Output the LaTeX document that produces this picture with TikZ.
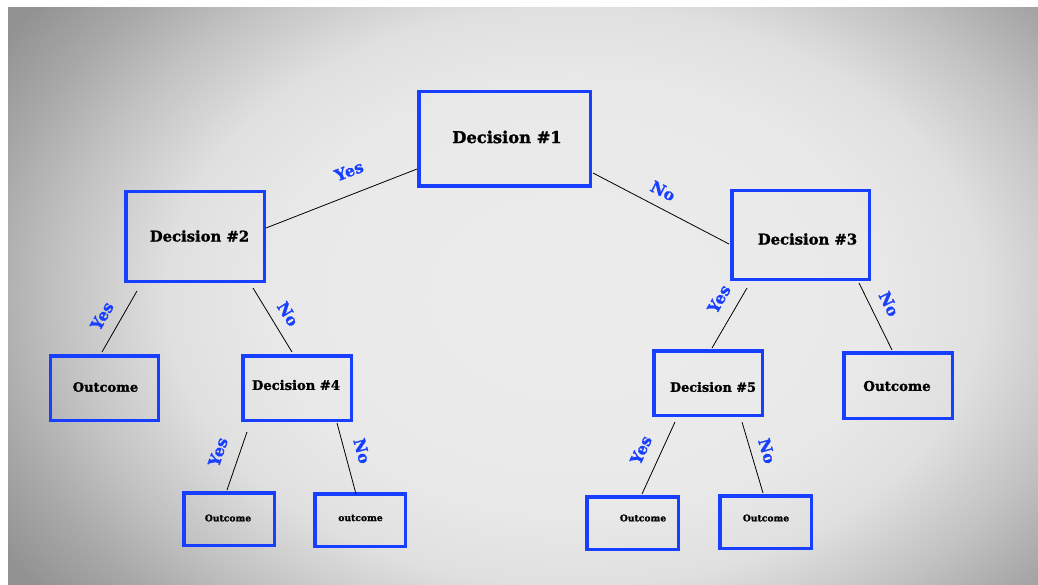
\documentclass[tikz,border=0pt]{standalone}
\usepackage{fontspec}
\setmainfont{DejaVu Serif}[BoldFeatures={FakeBold=1.5}]
\usetikzlibrary{calc}
\definecolor{bblue}{RGB}{24,62,255}
\definecolor{bgA}{RGB}{236,236,236}
\definecolor{bgB}{RGB}{233,233,233}
\definecolor{bgC}{RGB}{224,224,224}
\definecolor{bgD}{RGB}{194,194,194}
\definecolor{bgE}{RGB}{168,168,168}
\definecolor{bgF}{RGB}{146,146,146}
\pgfdeclareradialshading{vig}{\pgfpoint{0bp}{0bp}}{color(0bp)=(bgA); color(11bp)=(bgB); color(15bp)=(bgC); color(19bp)=(bgD); color(22bp)=(bgE); color(25bp)=(bgF); color(50bp)=(bgF)}
\newcommand{\fs}[1]{\bfseries\fontsize{#1bp}{#1bp}\selectfont}
\begin{document}
\begin{tikzpicture}[x=1bp,y=-1bp,
  box/.style={draw=bblue, line width=3.5bp, inner sep=0pt},
  lbl/.style={text=bblue, font=\fs{16}, inner sep=0pt},
  conn/.style={draw=black, line width=0.8bp}]
\fill[white] (0,0) rectangle (1038,585);
\begin{scope}
\clip (8,8) rectangle (1038,585);
\shade[shading=vig] (-102.5,-184.5) rectangle (1252.5,777.5);
\end{scope}
\useasboundingbox (0,0) rectangle (1038,585);

% boxes
\node[box, minimum width=171.5bp, minimum height=94.5bp,
  label={[font=\fs{16.3}, xshift=2.5bp, yshift=2bp]center:Decision \#1}] (d1) at (504.5,139) {};
\node[box, minimum width=138.5bp, minimum height=89.5bp,
  label={[font=\fs{14.8}, xshift=4.5bp, yshift=0.5bp]center:Decision \#2}] (d2) at (195,236.5) {};
\node[box, minimum width=137.5bp, minimum height=88.5bp,
  label={[font=\fs{14.8}, xshift=7bp, yshift=-4bp]center:Decision \#3}] (d3) at (800.5,235) {};
\node[box, minimum width=107.5bp, minimum height=64.5bp,
  label={[font=\fs{13}, xshift=1bp, yshift=1bp]center:Outcome}] (o1) at (104.5,388) {};
\node[box, minimum width=108.5bp, minimum height=64.5bp,
  label={[font=\fs{13.1}, xshift=-1bp, yshift=3bp]center:Decision \#4}] (d4) at (297,388) {};
\node[box, minimum width=90.5bp, minimum height=52.5bp,
  label={[font=\fs{9.2}, xshift=-1bp, yshift=1bp]center:Outcome}] (o2) at (229,519) {};
\node[box, minimum width=90.5bp, minimum height=52.5bp,
  label={[font=\fs{9.2}, xshift=0.5bp, yshift=2bp]center:outcome}] (o3) at (360,520) {};
\node[box, minimum width=108.5bp, minimum height=64.5bp,
  label={[font=\fs{12.8}, xshift=5bp, yshift=-4bp]center:Decision \#5}] (d5) at (708,383) {};
\node[box, minimum width=108.5bp, minimum height=65.5bp,
  label={[font=\fs{13.4}, xshift=-1bp, yshift=-0.5bp]center:Outcome}] (o4) at (898,385.5) {};
\node[box, minimum width=91.5bp, minimum height=52.5bp,
  label={[font=\fs{9.2}, xshift=10.5bp, yshift=5bp]center:Outcome}] (o5) at (632.5,523) {};
\node[box, minimum width=91.5bp, minimum height=52.5bp,
  label={[font=\fs{9.2}, xshift=0.5bp, yshift=4bp]center:Outcome}] (o6) at (765.5,522) {};

% connectors
\draw[conn] ($(d1.center)+(-87.5,30)$) -- ($(d2.center)+(71,-8.5)$);
\draw[conn] ($(d1.center)+(88.5,34)$) -- ($(d3.center)+(-71.5,9)$);
\draw[conn] ($(d2.center)+(-58,54.5)$) -- ($(o1.center)+(-2.5,-36)$);
\draw[conn] ($(d2.center)+(58,51.5)$) -- ($(d4.center)+(-5,-36)$);
\draw[conn] ($(d4.center)+(-50,44)$) -- ($(o2.center)+(-2,-29)$);
\draw[conn] ($(d4.center)+(40,35)$) -- ($(o3.center)+(-4,-26)$);
\draw[conn] ($(d3.center)+(-53.5,53)$) -- ($(d5.center)+(4,-35)$);
\draw[conn] ($(d3.center)+(58.5,48)$) -- ($(o4.center)+(-6,-35.5)$);
\draw[conn] ($(d5.center)+(-33,39)$) -- ($(o5.center)+(9.5,-29)$);
\draw[conn] ($(d5.center)+(34,39)$) -- ($(o6.center)+(-2.5,-29)$);

% labels
\node[lbl, rotate=21] (y1) at (349,171) {Yes};
\node[lbl, rotate=-27] (n1) at (663,191) {No};
\node[lbl, rotate=60] (y2) at (102,316) {Yes};
\node[lbl, rotate=-58] (n2) at (288,314) {No};
\node[lbl, rotate=71] (y3) at (218,452) {Yes};
\node[lbl, rotate=-75] (n3) at (362,451) {No};
\node[lbl, rotate=60] (y4) at (719,299) {Yes};
\node[lbl, rotate=-64] (n4) at (889,304) {No};
\node[lbl, rotate=65] (y5) at (641,450) {Yes};
\node[lbl, rotate=-74] (n5) at (767,451) {No};
\end{tikzpicture}
\end{document}
